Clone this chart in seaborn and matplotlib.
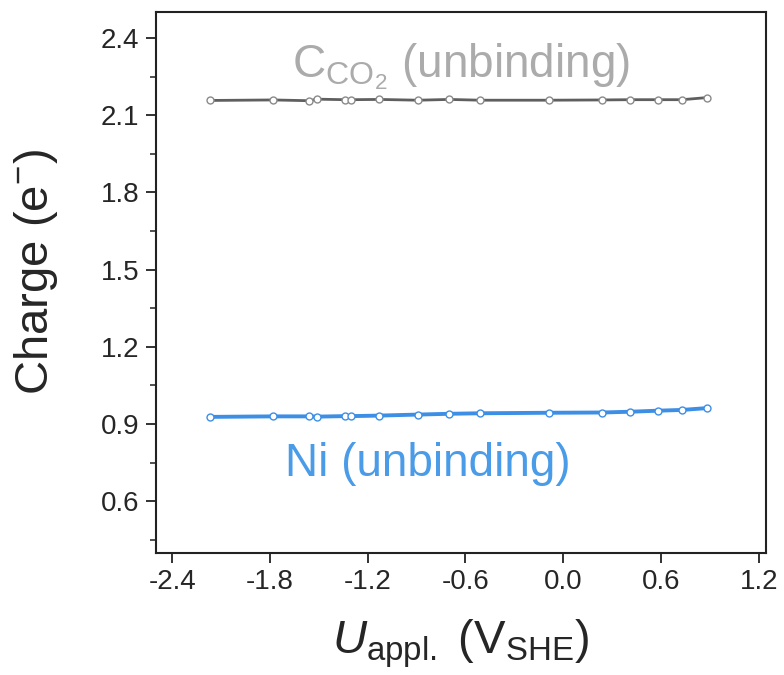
# Libraries
import pandas as pd
import seaborn as sns
import matplotlib.pyplot as plt
from matplotlib.ticker import MultipleLocator

# Data
potential = [-2.17, -1.78, -1.56, -1.51, -1.34, -1.30, -1.13, -0.89,
             -0.70, -0.51, -0.09, 0.24, 0.41, 0.58, 0.73, 0.88]
charge_c = [2.157, 2.159, 2.156, 2.162, 2.160, 2.160, 2.161, 2.158,
            2.161, 2.158, 2.158, 2.159, 2.160, 2.160, 2.160, 2.168]
charge_ni = [0.928, 0.930, 0.930, 0.929, 0.931, 0.931, 0.933, 0.937,
             0.940, 0.942, 0.944, 0.945, 0.948, 0.952, 0.955, 0.962]

xticks = [-2.4, -1.8, -1.2, -0.6, 0.0, 0.6, 1.2]
yticks = [0.6, 0.9, 1.2, 1.5, 1.8, 2.1, 2.4]

df = pd.DataFrame({'U': potential, 'C': charge_c, 'Ni': charge_ni})

sns.set_style('ticks')
plt.rcParams['font.family'] = ['Liberation Sans', 'DejaVu Sans']
plt.rcParams['mathtext.fontset'] = 'custom'
plt.rcParams['mathtext.rm'] = 'Liberation Sans'
plt.rcParams['mathtext.it'] = 'Liberation Sans:italic'

fig, ax = plt.subplots(figsize=(7.84, 6.75), dpi=100)
fig.subplots_adjust(left=0.199, right=0.977, top=0.982, bottom=0.181)

gray = '#5f5f5f'
blue = '#3d8fe6'

sns.lineplot(data=df, x='U', y='C', ax=ax, color=gray, lw=2, marker='o',
             markersize=5, markerfacecolor='white', markeredgecolor='#8a8a8a',
             markeredgewidth=1)
sns.lineplot(data=df, x='U', y='Ni', ax=ax, color=blue, lw=2.8, marker='o',
             markersize=5, markerfacecolor='white', markeredgecolor=blue,
             markeredgewidth=1)

ax.text(-0.63, 2.29, r'C$_{\mathrm{CO_2}}$ (unbinding)', color='#ababab',
        fontsize=33, ha='center', va='center')
ax.text(-0.83, 0.745, 'Ni (unbinding)', color='#4a9be8',
        fontsize=33, ha='center', va='center')

ax.set_xlim(-2.5, 1.245)
ax.set_ylim(0.4, 2.5)
ax.set_xticks(xticks)
ax.set_yticks(yticks)
ax.set_xticklabels([f'{t:.1f}' for t in xticks])
ax.set_yticklabels([f'{t:.1f}' for t in yticks])
ax.yaxis.set_minor_locator(MultipleLocator(0.15))
ax.tick_params(axis='both', which='major', direction='out', length=7,
               width=1.3, labelsize=20, color='#222222', pad=5)
ax.tick_params(axis='y', which='minor', direction='out', length=4,
               width=1.1, color='#222222')

for s in ax.spines.values():
    s.set_visible(True)
    s.set_linewidth(1.5)
    s.set_color('#222222')

ax.set_xlabel(r'$\mathit{U}_{\mathrm{appl.}}$ (V$_{\mathrm{SHE}}$)', fontsize=34, labelpad=16)
ax.set_ylabel(r'Charge (e$^{-}$)', fontsize=34)
ax.yaxis.set_label_coords(-0.157, 0.52)

plt.savefig('out.png', dpi=100)
